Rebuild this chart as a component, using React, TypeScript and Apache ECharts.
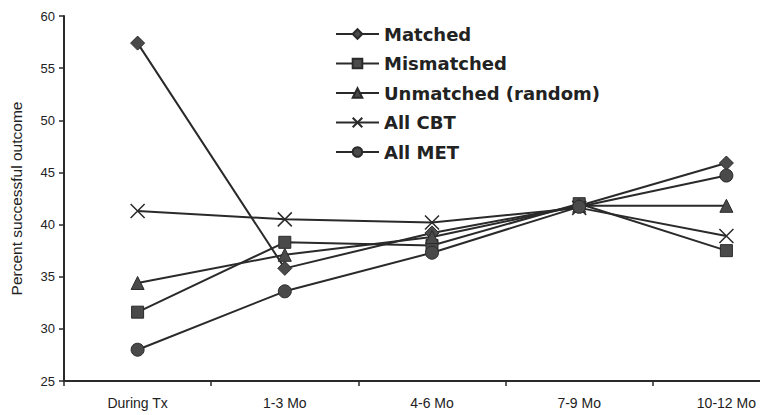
import React, { useEffect, useRef } from "react";
import * as echarts from "echarts";

const categories = ["During Tx", "1-3 Mo", "4-6 Mo", "7-9 Mo", "10-12 Mo"];
const matched = [57.4, 35.8, 39.2, 41.8, 45.9];
const mismatched = [31.6, 38.3, 38.0, 42.0, 37.5];
const unmatched = [34.4, 37.1, 38.8, 41.8, 41.8];
const allCBT = [41.3, 40.5, 40.2, 41.6, 38.9];
const allMET = [28.0, 33.6, 37.3, 41.7, 44.7];
const yTicks = { min: 25, max: 60, interval: 5 };

const FONT = "'Liberation Sans', Arial, sans-serif";
const INK = "#2a2a2a";
const MARK = "#4a4a4a";

const xSymbol = "path://M0,0L10,10M10,0L0,10";

export default function App() {
  const ref = useRef<HTMLDivElement>(null);
  useEffect(() => {
    if (!ref.current) return;
    const chart = echarts.init(ref.current, undefined, { renderer: "svg" });
    const mk = (name: string, data: number[], symbol: string, size: number, extra: any = {}) => ({
      name,
      type: "line",
      data,
      symbol,
      symbolSize: size,
      showSymbol: true,
      lineStyle: { color: INK, width: 2 },
      itemStyle: { color: MARK, borderColor: INK, borderWidth: 1, ...extra },
      emphasis: { disabled: true },
    });
    chart.setOption({
      animation: false,
      backgroundColor: "#ffffff",
      textStyle: { fontFamily: FONT },
      grid: { left: 60, top: 16, height: 365, width: 740, containLabel: false },
      legend: {
        orient: "vertical",
        left: 335,
        top: 25,
        padding: 0,
        itemWidth: 43,
        itemHeight: 12,
        itemGap: 11.5,
        textStyle: {
          fontFamily: "'DejaVu Sans', sans-serif",
          fontSize: 18,
          fontWeight: "bold",
          color: "#222",
          lineHeight: 18,
          padding: [0, 0, 0, 0],
        },
        data: ["Matched", "Mismatched", "Unmatched (random)", "All CBT", "All MET"],
      },
      xAxis: {
        type: "category",
        data: categories,
        boundaryGap: true,
        axisLine: { lineStyle: { color: INK, width: 2 } },
        axisTick: { show: true, length: 5, lineStyle: { color: INK, width: 1.5 } },
        axisLabel: { color: "#222", fontSize: 14, fontFamily: FONT, margin: 15, interval: 0 },
        splitLine: { show: false },
      },
      yAxis: {
        type: "value",
        min: yTicks.min,
        max: yTicks.max,
        interval: yTicks.interval,
        name: "Percent successful outcome",
        nameLocation: "middle",
        nameGap: 40,
        nameRotate: 90,
        nameTextStyle: { color: "#222", fontSize: 15.5, fontFamily: FONT },
        axisLine: { show: true, lineStyle: { color: INK, width: 2 } },
        axisTick: { show: true, length: 5, lineStyle: { color: INK, width: 1.5 } },
        axisLabel: { color: "#222", fontSize: 13, fontFamily: FONT, margin: 9 },
        splitLine: { show: false },
      },
      series: [
        mk("Matched", matched, "diamond", 14),
        mk("Mismatched", mismatched, "rect", 12),
        mk("Unmatched (random)", unmatched, "triangle", 13),
        mk("All CBT", allCBT, xSymbol, 14, { color: INK, borderColor: INK, borderWidth: 1.5 }),
        mk("All MET", allMET, "circle", 13),
      ],
    });
    return () => chart.dispose();
  }, []);
  return (
    <div
      style={{ position: "absolute", left: 0, top: 0, width: 760, height: 415, overflow: "hidden", background: "#fff" }}
    >
      <div ref={ref} style={{ position: "absolute", left: 0, top: 0, width: 812, height: 415 }} />
    </div>
  );
}
